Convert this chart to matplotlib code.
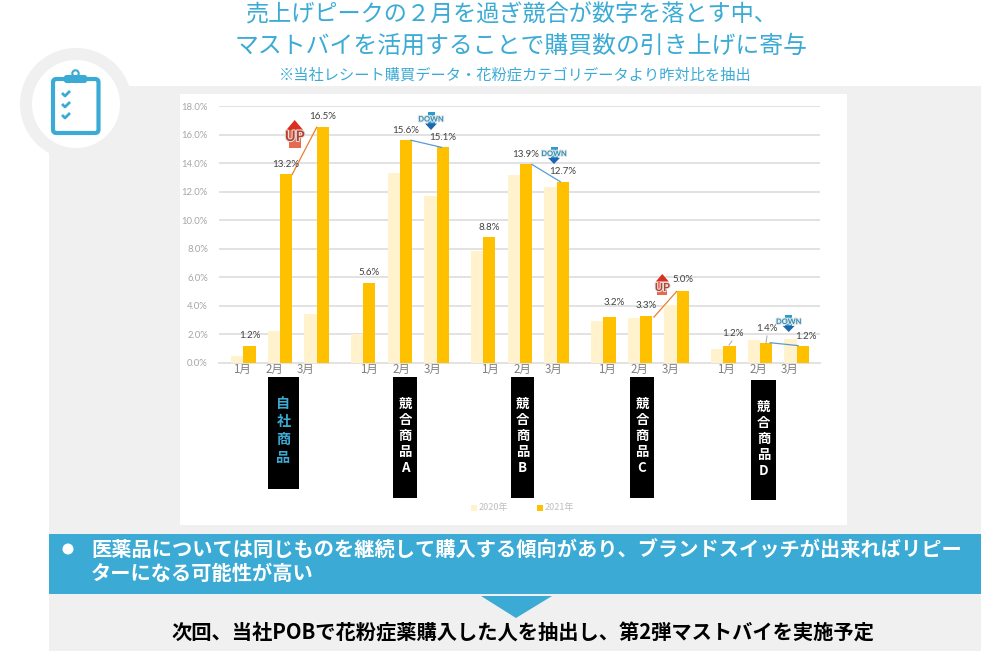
import matplotlib
matplotlib.use("Agg")
import matplotlib.pyplot as plt
from matplotlib.patches import Rectangle, Circle, FancyBboxPatch, Polygon
import matplotlib.patheffects as pe

plt.rcParams['font.family'] = ['Noto Sans CJK JP', 'DejaVu Sans']

W, H = 987, 651
BLUE = "#3BABD5"
GREY_BG = "#F0F0F0"

# data
months = ["1月", "2月", "3月"]
products = ["自社商品", "競合商品A", "競合商品B", "競合商品C", "競合商品D"]
series_names = ["2020年", "2021年"]
values_2020 = [0.45, 2.25, 3.4, 2.0, 13.3, 11.7, 7.8, 13.15, 12.3, 2.9, 3.13, 4.05, 0.97, 1.58, 1.65]
values_2021 = [1.2, 13.2, 16.5, 5.6, 15.6, 15.1, 8.8, 13.9, 12.7, 3.2, 3.3, 5.0, 1.2, 1.4, 1.2]
yticks = [0, 2, 4, 6, 8, 10, 12, 14, 16, 18]

title_lines = ["売上げピークの２月を過ぎ競合が数字を落とす中、",
               "マストバイを活用することで購買数の引き上げに寄与"]
subtitle = "※当社レシート購買データ・花粉症カテゴリデータより昨対比を抽出"
band_lines = ["医薬品については同じものを継続して購入する傾向があり、ブランドスイッチが出来ればリピー",
              "ターになる可能性が高い"]
bottom_text = "次回、当社POBで花粉症薬購入した人を抽出し、第2弾マストバイを実施予定"

# label offsets from bar top, in pixels
label_offsets = [(0, 10), (0, 10), (0, 11), (0, 10), (0, 10), (0, 10), (0, 10), (0, 10),
                 (0, 10), (5, 15), (0, 10), (0, 12), (3, 12), (1, 14), (3, 9)]


def px_axes(z):
    a = fig.add_axes([0, 0, 1, 1], zorder=z)
    a.set_xlim(0, W)
    a.set_ylim(H, 0)
    a.axis("off")
    a.patch.set_alpha(0)
    return a


def arrow(a, cx, top, bottom, up, hw, sw, text, fs):
    if up:
        head_col, stem_col, text_col = "#D9301F", "#E46A50", "#B8402F"
        mid = top + (bottom - top) * 0.36
        a.add_patch(Rectangle((cx - sw, mid), sw * 2, bottom - mid, color=stem_col, lw=0))
        a.add_patch(Polygon([(cx, top), (cx + hw, mid), (cx - hw, mid)], color=head_col, lw=0))
        ty = (top + bottom) / 2 + 3
    else:
        head_col, stem_col, text_col = "#1F66B0", "#2F9BCB", "#2A8FB8"
        mid = bottom - (bottom - top) * 0.36
        a.add_patch(Rectangle((cx - sw, top), sw * 2, mid - top, color=stem_col, lw=0))
        a.add_patch(Polygon([(cx, bottom), (cx + hw, mid), (cx - hw, mid)], color=head_col, lw=0))
        ty = (top + bottom) / 2 - 2
    a.text(cx, ty, text, color=text_col, fontsize=fs, weight="bold", family="Lato", ha="center", va="center",
           path_effects=[pe.withStroke(linewidth=1.5, foreground="#E4E4E4")])


fig = plt.figure(figsize=(W / 100, H / 100), dpi=100, facecolor="white")

# background layer
bg = px_axes(0)
bg.add_patch(Rectangle((49, 86), 932, 565, color=GREY_BG, lw=0))
bg.add_patch(Circle((76, 104), 56, color=GREY_BG, lw=0))
bg.add_patch(Circle((76, 104), 44, color="white", lw=0))
bg.add_patch(Rectangle((180, 94), 667, 431, color="white", lw=0))
bg.add_patch(Rectangle((49, 534), 932, 60, color=BLUE, lw=0))
bg.add_patch(Polygon([(481, 596), (552, 596), (516, 618)], color=BLUE, lw=0))

# clipboard icon
bg.add_patch(FancyBboxPatch((53, 79), 45.5, 54, boxstyle="round,pad=0,rounding_size=3.5",
                            fc="white", ec=BLUE, lw=3))
bg.add_patch(Circle((75.5, 73.5), 3.2, fc="white", ec=BLUE, lw=1.5))
bg.add_patch(FancyBboxPatch((64, 75), 23, 8, boxstyle="round,pad=0,rounding_size=2.5",
                            fc=BLUE, ec=BLUE, lw=0))
for cy in [93, 104, 115]:
    bg.plot([62, 65, 70], [cy, cy + 3, cy - 2], color=BLUE, lw=2, solid_capstyle="butt")

# titles
bg.text(512, 15, title_lines[0], color=BLUE, fontsize=16.7, ha="center", va="center")
bg.text(521, 46, title_lines[1], color=BLUE, fontsize=17.2, ha="center", va="center")
bg.text(515, 75, subtitle, color=BLUE, fontsize=10.95, ha="center", va="center")

# chart
left, right, top, bottom = 219, 820, 106, 362.7
ax = fig.add_axes([left / W, 1 - bottom / H, (right - left) / W, (bottom - top) / H], zorder=1)
ax.patch.set_alpha(0)
bar_w = 12.2
xs = [243.3 + g * 120 + m * 36.67 for g in range(len(products)) for m in range(len(months))]
ax.bar([x - bar_w / 2 for x in xs], values_2020, bar_w, color="#FFF2CC", zorder=3)
ax.bar([x + bar_w / 2 for x in xs], values_2021, bar_w, color="#FFC000", zorder=3)
ax.set_xlim(left, right)
ax.set_ylim(0, 18)
ax.set_yticks(yticks)
ax.set_yticklabels(["%.1f%%" % t for t in yticks], family="Lato", fontsize=6.8, color="#A6A6A6")
ax.set_xticks([])
ax.tick_params(axis="y", length=0, pad=8)
ax.grid(axis="y", color="#E2E2E2", lw=1.4, zorder=0)
ax.set_axisbelow(True)
for s in ["top", "right", "left"]:
    ax.spines[s].set_visible(False)
ax.spines["bottom"].set_color("#E2E2E2")
ax.spines["bottom"].set_linewidth(1.4)

for i, v in enumerate(values_2021):
    dx, dy = label_offsets[i]
    ax.annotate("%.1f%%" % v, (xs[i] + bar_w / 2, v), xytext=(dx, dy), textcoords="offset pixels",
                family="Lato", fontsize=7, color="#404040", ha="center", va="center", zorder=6)

# connector lines between months
ax.plot([xs[1] + bar_w, xs[2]], [values_2021[1], values_2021[2]], color="#ED7D31", lw=0.9, zorder=5)
ax.plot([xs[4] + 11, xs[5] + 5], [values_2021[4], values_2021[5]], color="#5B9BD5", lw=0.9, zorder=5)
ax.plot([xs[7] + 12, xs[8] + 3.5], [values_2021[7], values_2021[8]], color="#5B9BD5", lw=0.9, zorder=5)
ax.plot([xs[10] + 14, xs[11]], [values_2021[10] - 0.1, values_2021[11]], color="#ED7D31", lw=0.9, zorder=5)
ax.plot([xs[13] + 10, xs[14] + 1.5], [values_2021[13], values_2021[14]], color="#5B9BD5", lw=0.9, zorder=5)

# foreground layer
fg = px_axes(2)
for g, start in enumerate([242, 369, 490, 607, 726]):
    for m, name in enumerate(months):
        fg.text(start + m * 32, 369, name, color="#7F7F7F", fontsize=8.3, ha="center", va="center")

# grey leader lines in the last group
fg.plot([729, 732], [345, 341], color="#A6A6A6", lw=0.7)
fg.plot([766, 767], [343, 336], color="#A6A6A6", lw=0.7)

arrow(fg, 294.7, 120, 148, True, 8.5, 6, "UP", 10.5)
arrow(fg, 662.3, 274, 295, True, 6.5, 5, "UP", 8)
arrow(fg, 431, 112, 130, False, 6, 3.5, "DOWN", 5.4)
arrow(fg, 554, 147, 164, False, 6, 3.5, "DOWN", 5.4)
arrow(fg, 788.7, 315, 332, False, 6, 3.5, "DOWN", 5.4)

# black product boxes
boxes = [(268, 377, 31, 112), (393, 377, 24, 121), (511, 377, 23, 121), (630, 377, 24, 121), (751, 380, 25, 120)]
for i, (bx, by, bw, bh) in enumerate(boxes):
    fg.add_patch(Rectangle((bx, by), bw, bh, color="black", lw=0))
    cx = bx + bw / 2
    if i == 0:
        for k, ch in enumerate(products[0]):
            fg.text(cx, 404 + k * 18, ch, color=BLUE, fontsize=10.2, weight="bold", ha="center", va="center")
    else:
        for k, ch in enumerate(products[i]):
            fg.text(cx, by + 27 + k * 16, ch, color="white", fontsize=9.6, weight="bold", ha="center", va="center")

# legend
for (lx, col), name in zip([(473.5, "#FFF2CC"), (539.5, "#FFC000")], series_names):
    fg.add_patch(Rectangle((lx - 2.5, 505), 5.5, 5.5, color=col, lw=0))
    fg.text(lx + 5.5, 507.5, name, color="#BFBFBF", fontsize=6.5, ha="left", va="center")

# text band and bottom line
fg.add_patch(Circle((68, 549), 5.5, color="white", lw=0))
fg.text(91, 550, band_lines[0], color="white", fontsize=14.55, weight="bold", ha="left", va="center")
fg.text(91, 573, band_lines[1], color="white", fontsize=14.55, weight="bold", ha="left", va="center")
fg.text(523, 633, bottom_text, color="black", fontsize=14.6, weight="bold", ha="center", va="center")

fig.savefig("out.png", dpi=100)
